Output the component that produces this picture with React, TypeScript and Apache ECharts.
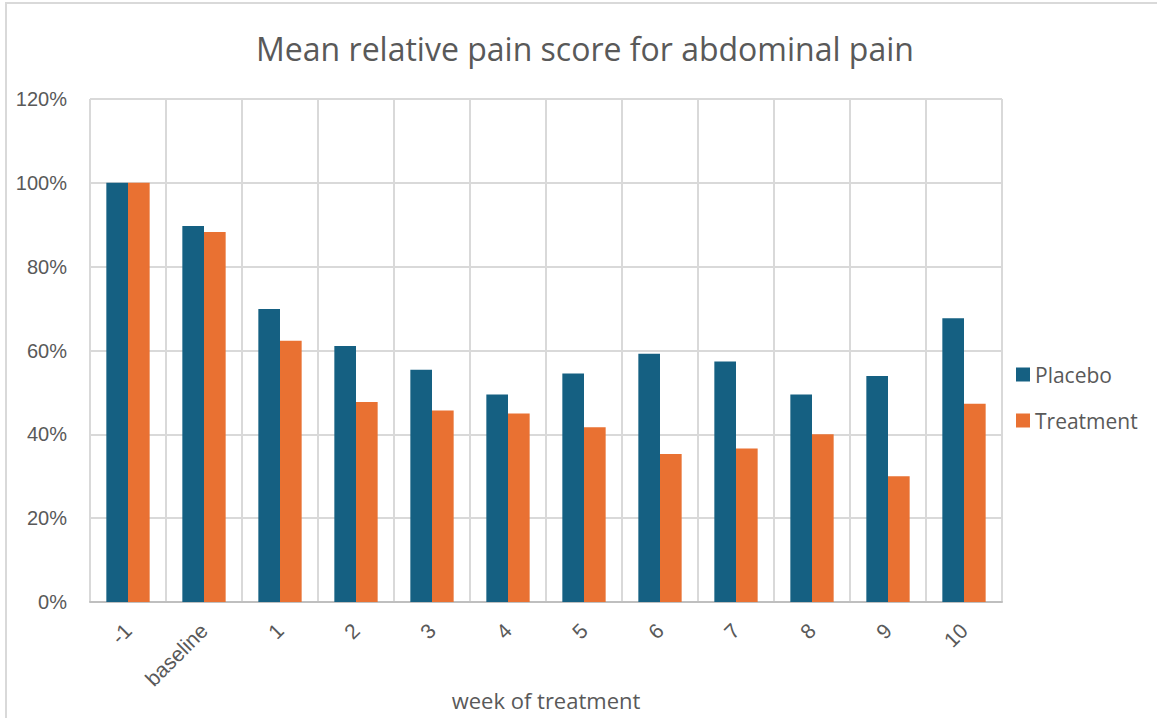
import React, { useEffect, useRef } from "react";
import * as echarts from "echarts";

const categories = ["-1", "baseline", "1", "2", "3", "4", "5", "6", "7", "8", "9", "10"];
const placebo = [100, 89.7, 69.9, 61.1, 55.4, 49.5, 54.5, 59.2, 57.4, 49.5, 53.9, 67.7];
const treatment = [100, 88.3, 62.3, 47.7, 45.7, 45.0, 41.7, 35.3, 36.6, 40.0, 30.0, 47.3];
const yTicks = { min: 0, max: 120, interval: 20 };
const titleText = "Mean relative pain score for abdominal pain";
const xName = "week of treatment";

const FONT = "'Open Sans', 'Noto Sans', sans-serif";
const TICKFONT = "'Liberation Sans', Arial, sans-serif";
const TEXT = "#595959";

export default function App() {
  const ref = useRef<HTMLDivElement>(null);
  useEffect(() => {
    if (!ref.current) return;
    const chart = echarts.init(ref.current, null, { renderer: "svg" });
    chart.setOption({
      animation: false,
      backgroundColor: "#ffffff",
      textStyle: { fontFamily: FONT, color: TEXT },
      graphic: [
        {
          type: "rect",
          z: -10,
          shape: { x: 6, y: 3, width: 1300, height: 900 },
          style: { fill: "none", stroke: "#d9d9d9", lineWidth: 2 },
          silent: true,
        },
        {
          type: "text",
          x: 585,
          y: 48,
          style: {
            text: titleText,
            align: "center",
            verticalAlign: "middle",
            fontSize: 32,
            fontFamily: FONT,
            fill: TEXT,
          },
        },
      ],
      legend: {
        orient: "vertical",
        left: 1016,
        top: 364,
        padding: 0,
        itemWidth: 14,
        itemHeight: 14,
        itemGap: 25,
        icon: "rect",
        textStyle: { fontSize: 21, color: TEXT, fontFamily: FONT },
        data: ["Placebo", "Treatment"],
      },
      grid: { left: 90, right: 155, top: 99, bottom: 116, containLabel: false, outerBoundsMode: "none" },
      xAxis: {
        type: "category",
        data: categories,
        boundaryGap: true,
        name: xName,
        nameLocation: "middle",
        nameGap: 87,
        nameMoveOverlap: false,
        nameTextStyle: { fontSize: 22, color: TEXT, fontFamily: FONT },
        axisLine: { show: true, lineStyle: { color: "#bfbfbf", width: 2 } },
        axisTick: { show: false },
        axisLabel: { rotate: 45, fontSize: 21, color: TEXT, margin: 25, fontFamily: TICKFONT, interval: 0 },
        splitLine: { show: true, lineStyle: { color: "#d9d9d9", width: 2 } },
      },
      yAxis: {
        type: "value",
        min: yTicks.min,
        max: yTicks.max,
        interval: yTicks.interval,
        axisLine: { show: false },
        axisTick: { show: false },
        axisLabel: { formatter: "{value}%", fontSize: 20, color: TEXT, margin: 23, fontFamily: TICKFONT },
        splitLine: { show: true, lineStyle: { color: "#d9d9d9", width: 2 } },
      },
      series: [
        {
          name: "Placebo",
          type: "bar",
          data: placebo,
          barGap: "0%",
          barCategoryGap: "43%",
          itemStyle: { color: "#156082" },
        },
        {
          name: "Treatment",
          type: "bar",
          data: treatment,
          barGap: "0%",
          barCategoryGap: "43%",
          itemStyle: { color: "#e97132" },
        },
      ],
    });
    return () => chart.dispose();
  }, []);
  return (
    <div
      ref={ref}
      style={{ position: "fixed", left: 0, top: 0, width: 1157, height: 718 }}
    />
  );
}
